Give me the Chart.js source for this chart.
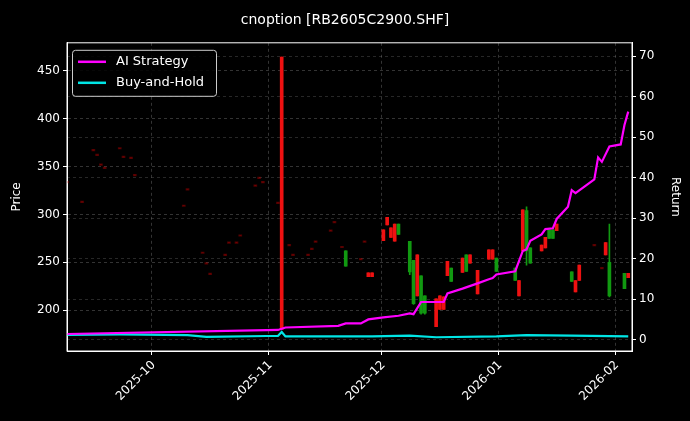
<!DOCTYPE html>
<html><head><meta charset="utf-8">
<script src="https://cdn.jsdelivr.net/npm/chart.js@4.4.1/dist/chart.umd.min.js"></script>
<style>html,body{margin:0;background:#000;}#w{width:690px;height:421px;}</style>
</head><body><div id="w"><canvas id="c"></canvas></div>
<script>
// Candles
const candleDates = ['2025-09-08','2025-09-12','2025-09-15','2025-09-16','2025-09-17','2025-09-18','2025-09-22','2025-09-23','2025-09-25','2025-09-26','2025-10-09','2025-10-10','2025-10-14','2025-10-15','2025-10-16','2025-10-20','2025-10-21','2025-10-23','2025-10-24','2025-10-28','2025-10-29','2025-10-30','2025-11-03','2025-11-04','2025-11-06','2025-11-07','2025-11-11','2025-11-12','2025-11-13','2025-11-17','2025-11-18','2025-11-20','2025-11-21','2025-11-25','2025-11-26','2025-11-27','2025-11-28','2025-12-01','2025-12-02','2025-12-03','2025-12-04','2025-12-05','2025-12-08','2025-12-09','2025-12-10','2025-12-11','2025-12-12','2025-12-15','2025-12-16','2025-12-17','2025-12-18','2025-12-19','2025-12-22','2025-12-23','2025-12-24','2025-12-26','2025-12-29','2025-12-30','2025-12-31','2026-01-05','2026-01-06','2026-01-07','2026-01-08','2026-01-09','2026-01-12','2026-01-13','2026-01-14','2026-01-15','2026-01-16','2026-01-20','2026-01-21','2026-01-22','2026-01-26','2026-01-28','2026-01-29','2026-01-30','2026-02-03','2026-02-04'];
const openP  = [333.6,313,367,362,352,348.5,369,360,359,341,309,326,260,249,238,257.7,270.5,270.5,278,330,338,333.6,312,464,268,257.7,257.7,264,271.6,283,292,266,246,253.4,271.6,239,239,284,297,286,290,279,240,207,257.7,197,197,212,215,214,251,230,254.5,240.6,257.7,241.6,263,263,240.6,231,231,304.7,262,249,268,276,275,275,290,230,231,247,268,244,270.5,215,222.5,238.5];
const closeP = [333.6,313,367,362,352,348.5,369,360,359,341,309,326,260,249,238,257.7,270.5,270.5,278,330,338,333.6,312,180,268,257.7,257.7,264,271.6,283,292,266,262,253.4,271.6,235,235,272.6,289,276,272,290,272,252,215,236,215,183,201,201,236,244,239.6,257.7,249,217,253.4,253.4,254.5,244,215,262,304,265,262,265,284,284,283,240,219,231,268,244,257.7,250,238.5,234];
const highP  = [333.6,313,367,362,352,348.5,369,360,359,341,309,326,260,249,238,257.7,270.5,270.5,278,330,338,333.6,312,464,268,257.7,257.7,264,271.6,283,292,266,262,253.4,271.6,239,239,284,297,286,290,290,272,252,257.7,236,215,212,215,214,251,244,254.5,257.7,257.7,241.6,263,263,254.5,244,231,304.7,308,265,268,276,284,284,290,240,231,247,268,244,270.5,290,238.5,238.5];
const lowP   = [333.6,313,367,362,352,348.5,369,360,359,341,309,326,260,249,238,257.7,270.5,270.5,278,330,338,333.6,312,180,268,257.7,257.7,264,271.6,283,292,266,246,253.4,271.6,235,235,272.6,289,276,272,279,237,206,215,196,196,183,201,201,236,230,239.6,240.6,249,217,253.4,253.4,240.6,231,215,262,247,249,262,265,275,275,283,230,219,231,268,244,257.7,214,222.5,234];
// Returns (%)
const aiDates = ['2025-09-08','2025-10-31','2025-11-03','2025-11-05','2025-11-19','2025-11-21','2025-11-25','2025-11-27','2025-12-01','2025-12-05','2025-12-08','2025-12-09','2025-12-11','2025-12-17','2025-12-18','2025-12-22','2025-12-26','2025-12-29','2025-12-30','2025-12-31','2026-01-05','2026-01-07','2026-01-08','2026-01-09','2026-01-12','2026-01-13','2026-01-15','2026-01-16','2026-01-19','2026-01-20','2026-01-21','2026-01-26','2026-01-27','2026-01-28','2026-01-30','2026-02-02','2026-02-03','2026-02-04'];
const aiReturn = [1.4,2.35,2.4,3.0,3.4,4.0,4.0,5.0,5.5,5.9,6.5,6.3,9.3,9.3,11.4,12.6,13.9,14.9,15.2,16.1,16.9,21.9,22.3,24.4,26,27.3,27.5,29.8,32.8,36.9,36.2,39.6,45,43.9,47.7,48.2,53,56.3];
const bhDates = ['2025-09-08','2025-09-22','2025-10-10','2025-10-15','2025-10-31','2025-11-03','2025-11-04','2025-11-05','2025-11-28','2025-12-08','2025-12-15','2025-12-31','2026-01-08','2026-01-20','2026-02-04'];
const bhReturn = [1.2,1.3,1.1,0.7,0.9,0.9,1.9,0.8,0.8,1.0,0.6,0.8,1.1,1.0,0.8];
const monthTicks = ['2025-10-01','2025-11-01','2025-12-01','2026-01-01','2026-02-01'];

const base = Date.UTC(2025,8,8);
const dnum = s => { const [y,m,d] = s.split('-').map(Number); return Math.round((Date.UTC(y,m-1,d)-base)/864e5); };
const labelOf = {}; monthTicks.forEach(s => labelOf[dnum(s)] = s.slice(0,7));
const RED='#ee1111', GREEN='#119911', DIM='rgba(200,0,0,0.4)';
const isDot = i => highP[i]===lowP[i];
const cCol = i => isDot(i) ? DIM : (closeP[i]>=openP[i] ? GREEN : RED);
const bodies = candleDates.map((s,i)=>{const lo=Math.min(openP[i],closeP[i]),hi=Math.max(openP[i],closeP[i]);return {x:dnum(s),y: hi-lo<1.5?[lo-0.8,hi+0.8]:[lo,hi]};});
const wicks = candleDates.map((s,i)=>({x:dnum(s),y:[lowP[i],highP[i]]}));

const legendPlugin = {id:'lg', afterDraw(ch){
  const c=ch.ctx, a=ch.chartArea; const x=a.left+5,y=a.top+7,w=144,h=46;
  c.save(); c.fillStyle='rgba(0,0,0,0.85)'; c.strokeStyle='#cccccc'; c.lineWidth=1;
  c.beginPath(); c.roundRect(x+0.5,y+0.5,w,h,3); c.fill(); c.stroke();
  const items=[['AI Strategy','#ff00ff'],['Buy-and-Hold','#00e5e5']];
  c.font='13px "DejaVu Sans"'; c.textBaseline='middle';
  items.forEach((it,k)=>{const yy=y+12+k*21; c.strokeStyle=it[1]; c.lineWidth=2.5; c.beginPath(); c.moveTo(x+6,yy); c.lineTo(x+34,yy); c.stroke(); c.fillStyle='#fff'; c.fillText(it[0],x+44,yy);});
  c.restore();
}};
const borderPlugin = {id:'bd', afterDatasetsDraw(ch){const c=ch.ctx,a=ch.chartArea;c.save();c.strokeStyle='#fff';c.lineWidth=1;c.strokeRect(a.left,a.top,a.right-a.left,a.bottom-a.top);c.restore();}};

Chart.defaults.font.family='"DejaVu Sans"';
Chart.defaults.color='#fff';
const gridC='rgba(128,128,128,0.4)';
new Chart(document.getElementById('c'),{
  data:{datasets:[
    {type:'line',label:'AI Strategy',yAxisID:'y1',data:aiDates.map((s,i)=>({x:dnum(s),y:aiReturn[i]})),borderColor:'#ff00ff',borderWidth:2.2,pointRadius:0,order:0},
    {type:'line',label:'Buy-and-Hold',yAxisID:'y1',data:bhDates.map((s,i)=>({x:dnum(s),y:bhReturn[i]})),borderColor:'#00e5e5',borderWidth:2.2,pointRadius:0,order:1},
    {type:'bar',yAxisID:'y',data:wicks,backgroundColor:candleDates.map((s,i)=>cCol(i)),barThickness:1,grouped:false,order:3},
    {type:'bar',yAxisID:'y',data:bodies,backgroundColor:candleDates.map((s,i)=>cCol(i)),barThickness:3,grouped:false,order:2}
  ]},
  options:{responsive:true,maintainAspectRatio:false,animation:false,
    layout:{padding:0},
    plugins:{legend:{display:false},tooltip:{enabled:false},
      title:{display:true,text:'cnoption [RB2605C2900.SHF]',font:{size:14,weight:'normal'},color:'#fff',padding:{top:12,bottom:14}}},
    scales:{
      x:{type:'linear',min:0,max:150,offset:false,
        afterFit:s=>{s.height=70;},
        ticks:{stepSize:1,autoSkip:false,callback:v=>labelOf[v]||'',maxRotation:45,minRotation:45,font:{size:12},color:'#fff'},
        grid:{color:c=>labelOf[c.tick&&c.tick.value]?gridC:'transparent',tickColor:c=>labelOf[c.tick&&c.tick.value]?'#fff':'transparent',tickLength:4},
        border:{color:'#fff',dash:[3,3]}},
      y:{position:'left',min:157.5,max:479,
        afterBuildTicks:s=>{s.ticks=[200,250,300,350,400,450].map(v=>({value:v}));},
        afterFit:s=>{s.width=67;},
        title:{display:true,text:'Price',font:{size:12},color:'#fff',padding:{top:10,bottom:0}},
        ticks:{font:{size:12},color:'#fff'},
        grid:{color:gridC,tickColor:'#fff',tickLength:4},border:{color:'#fff',dash:[3,3]}},
      y1:{position:'right',min:-2.8,max:73.3,
        afterBuildTicks:s=>{s.ticks=[0,10,20,30,40,50,60,70].map(v=>({value:v}));},
        afterFit:s=>{s.width=58;},
        title:{display:true,text:'Return',font:{size:12},color:'#fff',padding:{top:8,bottom:0}},
        ticks:{font:{size:12},color:'#fff'},
        grid:{color:'rgba(128,128,128,0.3)',tickColor:'#fff',tickLength:4},border:{color:'#fff',dash:[3,3]}}
    }},
  plugins:[legendPlugin,borderPlugin]
});
</script></body></html>
